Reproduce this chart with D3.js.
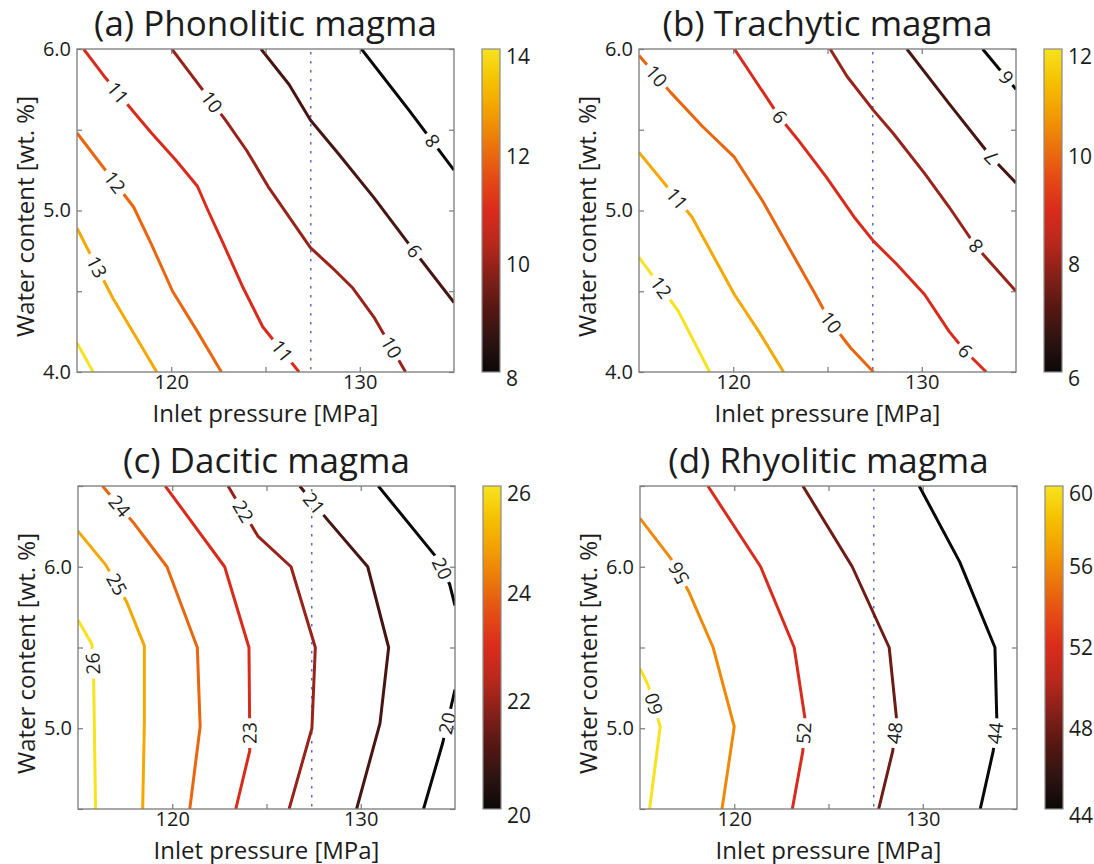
<!DOCTYPE html>
<html>
<head>
<meta charset="utf-8">
<script src="https://cdn.jsdelivr.net/npm/d3@7"></script>
<style>
  body { margin: 0; background: #fff; }
  text { font-family: "Open Sans", "Noto Sans", sans-serif; fill: #1c1c1c; }
</style>
</head>
<body>
<div id="chart"></div>
<script>
// ---- data ----
// every contour: level, points as [pressure MPa, water wt.%], label spots
const pressureDomain = [115, 135];
const pressureTicks = [120, 125, 130];
const pressureLabels = [120, 130];
const ventPressure = 127.4;   // dotted blue line

const titles = ["(a) Phonolitic magma", "(b) Trachytic magma", "(c) Dacitic magma", "(d) Rhyolitic magma"];

const waterDomainTop = [4.0, 6.0];
const waterTicksTop = [4.0, 4.5, 5.0, 5.5, 6.0];
const waterLabelsTop = [4.0, 5.0, 6.0];
const waterDomainBottom = [4.5, 6.5];
const waterTicksBottom = [4.5, 5.0, 5.5, 6.0, 6.5];
const waterLabelsBottom = [5.0, 6.0];

const cbarRangeA = [8, 14],  cbarTicksA = [8, 10, 12, 14];
const cbarRangeB = [6, 12],  cbarTicksB = [6, 8, 10, 12];
const cbarRangeC = [20, 26], cbarTicksC = [20, 22, 24, 26];
const cbarRangeD = [44, 60], cbarTicksD = [44, 48, 52, 56, 60];

const phonoliticLines = [
  {level: 14, points: [[115.0, 4.18], [115.86, 4.0]], labels: []},
  {level: 13, points: [[115.0, 4.89], [116.89, 4.46], [119.23, 4.0]], labels: [[116.05, 4.65]]},
  {level: 12, points: [[115.0, 5.48], [118.01, 5.02], [118.95, 4.79], [120.07, 4.5], [121.39, 4.25], [122.66, 4.0]], labels: [[116.95, 5.17]]},
  {level: 11, points: [[115.35, 6.0], [116.52, 5.82], [118.01, 5.61], [118.95, 5.48], [120.26, 5.31], [121.39, 5.15], [121.95, 5.0], [122.7, 4.81], [123.82, 4.52], [124.85, 4.28], [126.78, 4.0]], labels: [[117.18, 5.73], [125.88, 4.13]]},
  {level: 10, points: [[120.03, 6.0], [122.88, 5.56], [124.01, 5.37], [125.13, 5.15], [126.25, 4.96], [127.38, 4.77], [128.5, 4.65], [129.63, 4.52], [130.75, 4.34], [132.43, 4.0]], labels: [[121.9, 5.65], [131.5, 4.14]]},
  {level: 9, points: [[135.0, 4.43], [132.62, 4.79], [130.75, 5.08], [128.88, 5.35], [127.38, 5.56], [126.25, 5.78], [124.76, 6.0]], labels: [[132.9, 4.75]]},
  {level: 8, points: [[135.0, 5.25], [132.62, 5.62], [130.09, 6.0]], labels: [[133.84, 5.43]]}
];

const trachyticLines = [
  {level: 12, points: [[115.0, 4.71], [117.07, 4.38], [118.75, 4.0]], labels: [[115.9, 4.5]]},
  {level: 11, points: [[115.0, 5.36], [117.81, 4.96], [120.06, 4.48], [121.36, 4.25], [122.67, 4.0]], labels: [[116.88, 5.06]]},
  {level: 10, points: [[115.0, 5.96], [116.69, 5.73], [118.37, 5.52], [120.06, 5.33], [121.55, 5.06], [123.05, 4.75], [124.36, 4.48], [125.1, 4.32], [126.22, 4.15], [127.44, 4.0]], labels: [[115.9, 5.83], [125.1, 4.3]]},
  {level: 9, points: [[133.42, 4.0], [132.3, 4.13], [131.46, 4.25], [130.15, 4.48], [128.65, 4.67], [127.44, 4.81], [126.41, 4.96], [124.92, 5.21], [123.42, 5.44], [122.45, 5.58], [120.06, 6.0]], labels: [[122.45, 5.58], [132.3, 4.13]]},
  {level: 8, points: [[135.0, 4.5], [132.86, 4.78], [131.46, 5.02], [130.15, 5.23], [128.47, 5.48], [127.44, 5.62], [126.04, 5.83], [125.14, 6.0]], labels: [[132.86, 4.78]]},
  {level: 7, points: [[135.0, 5.17], [133.7, 5.33], [131.46, 5.66], [129.21, 6.0]], labels: [[133.7, 5.33]]},
  {level: 6, points: [[135.0, 5.75], [133.23, 6.0]], labels: [[134.36, 5.81]]}
];

const daciticLines = [
  {level: 26, points: [[115.93, 4.5], [115.83, 5.31], [115.74, 5.52], [115.0, 5.67]], labels: [[115.78, 5.4]]},
  {level: 25, points: [[115.0, 6.22], [116.48, 6.01], [117.59, 5.78], [118.52, 5.51], [118.52, 5.03], [118.43, 4.5]], labels: [[117.04, 5.89]]},
  {level: 24, points: [[116.3, 6.5], [117.96, 6.27], [119.72, 6.0], [121.33, 5.5], [121.48, 5.01], [120.93, 4.5]], labels: [[117.04, 6.36]]},
  {level: 23, points: [[123.37, 4.5], [124.11, 4.86], [124.1, 5.1], [124.07, 5.5], [122.78, 6.0], [119.63, 6.5]], labels: [[124.12, 4.97]]},
  {level: 22, points: [[122.96, 6.5], [124.54, 6.19], [126.3, 6.0], [127.59, 5.5], [127.41, 5.0], [126.2, 4.5]], labels: [[123.72, 6.34]]},
  {level: 21, points: [[126.76, 6.5], [128.24, 6.29], [130.37, 6.0], [131.48, 5.5], [131.02, 5.03], [129.78, 4.5]], labels: [[127.5, 6.39]]},
  {level: 20, points: [[130.93, 6.5], [134.07, 6.05], [134.72, 5.89], [135.0, 5.76]], labels: [[134.35, 5.99]]},
  {level: 20, points: [[133.33, 4.5], [134.35, 4.91], [135.0, 5.24]], labels: [[134.62, 5.03]]}
];

const rhyoliticLines = [
  {level: 60, points: [[115.51, 4.5], [116.07, 5.01], [115.42, 5.27], [115.0, 5.37]], labels: [[115.72, 5.15]]},
  {level: 56, points: [[119.35, 4.5], [120.0, 5.01], [118.88, 5.5], [117.57, 5.85], [116.64, 6.05], [115.0, 6.3]], labels: [[117.05, 5.96]]},
  {level: 52, points: [[123.08, 4.5], [123.64, 4.86], [123.74, 5.07], [123.18, 5.5], [121.4, 6.0], [118.6, 6.5]], labels: [[123.7, 4.97]]},
  {level: 48, points: [[127.66, 4.5], [128.41, 4.86], [128.6, 5.07], [128.22, 5.5], [126.26, 6.0], [123.64, 6.5]], labels: [[128.52, 4.97]]},
  {level: 44, points: [[133.05, 4.5], [133.74, 4.86], [133.93, 5.05], [133.83, 5.5], [131.96, 6.03], [129.81, 6.5]], labels: [[133.85, 4.97]]}
];

// ---- colormap (black -> red -> orange -> yellow) ----
const hotStops = ["#0a0808", "#2d1411", "#561712", "#86201a", "#b9281c", "#d92b1c", "#e54a15", "#eb740b", "#f29d02", "#f5c100", "#f6e31e"];
const hot = d3.scaleLinear()
  .domain(hotStops.map((c, i) => i / (hotStops.length - 1)))
  .range(hotStops)
  .interpolate(d3.interpolateRgb);

const W = 1094, H = 864;
const svg = d3.select("#chart").append("svg").attr("width", W).attr("height", H);

const plotW = 377, plotH = 323;
const frameColor = "#7a7a7a";

const panels = [
  {id: "a", title: titles[0], lines: phonoliticLines, left: 77, top: 49, yDomain: waterDomainTop, yTicks: waterTicksTop, yLabels: waterLabelsTop, cRange: cbarRangeA, cTicks: cbarTicksA},
  {id: "b", title: titles[1], lines: trachyticLines, left: 639, top: 49, yDomain: waterDomainTop, yTicks: waterTicksTop, yLabels: waterLabelsTop, cRange: cbarRangeB, cTicks: cbarTicksB},
  {id: "c", title: titles[2], lines: daciticLines, left: 78, top: 486, yDomain: waterDomainBottom, yTicks: waterTicksBottom, yLabels: waterLabelsBottom, cRange: cbarRangeC, cTicks: cbarTicksC},
  {id: "d", title: titles[3], lines: rhyoliticLines, left: 640, top: 486, yDomain: waterDomainBottom, yTicks: waterTicksBottom, yLabels: waterLabelsBottom, cRange: cbarRangeD, cTicks: cbarTicksD}
];

// nearest point on a pixel polyline, with the direction of that segment
function placeOnLine(px, p) {
  let best = null;
  for (let i = 0; i < px.length - 1; i++) {
    const a = px[i], b = px[i + 1];
    const dx = b[0] - a[0], dy = b[1] - a[1];
    const len2 = dx * dx + dy * dy;
    let t = ((p[0] - a[0]) * dx + (p[1] - a[1]) * dy) / len2;
    t = Math.max(0, Math.min(1, t));
    const qx = a[0] + t * dx, qy = a[1] + t * dy;
    const d = (qx - p[0]) ** 2 + (qy - p[1]) ** 2;
    if (!best || d < best.d) best = {d: d, x: qx, y: qy, angle: Math.atan2(dy, dx) * 180 / Math.PI};
  }
  return best;
}

function drawPanel(p) {
  const g = svg.append("g").attr("class", "panel-" + p.id);
  const x = d3.scaleLinear().domain(pressureDomain).range([p.left, p.left + plotW]);
  const y = d3.scaleLinear().domain(p.yDomain).range([p.top + plotH, p.top]);
  const color = v => hot((v - p.cRange[0]) / (p.cRange[1] - p.cRange[0]));

  svg.append("clipPath").attr("id", "clip-" + p.id)
    .append("rect").attr("x", p.left).attr("y", p.top).attr("width", plotW).attr("height", plotH);

  const plot = g.append("g").attr("clip-path", "url(#clip-" + p.id + ")");

  // dotted vertical line
  plot.append("line")
    .attr("x1", x(ventPressure)).attr("x2", x(ventPressure))
    .attr("y1", p.top + 3).attr("y2", p.top + plotH)
    .attr("stroke", "#3a4fd6").attr("stroke-width", 1.5)
    .attr("stroke-dasharray", "2.5,6.5").attr("opacity", 0.85);

  // contour lines
  const line = d3.line().x(d => x(d[0])).y(d => y(d[1]));
  plot.selectAll("path.contour")
    .data(p.lines)
    .join("path")
    .attr("class", "contour")
    .attr("d", d => line(d.points))
    .attr("fill", "none")
    .attr("stroke", d => color(d.level))
    .attr("stroke-width", 3)
    .attr("stroke-linejoin", "round")
    .attr("stroke-linecap", "butt");

  // inline labels
  p.lines.forEach(c => {
    const px = c.points.map(d => [x(d[0]), y(d[1])]);
    c.labels.forEach(lp => {
      const pos = placeOnLine(px, [x(lp[0]), y(lp[1])]);
      const lg = plot.append("g")
        .attr("transform", "translate(" + pos.x + "," + pos.y + ") rotate(" + pos.angle + ")");
      const bg = lg.append("rect").attr("fill", "#fff");
      const t = lg.append("text")
        .attr("text-anchor", "middle")
        .attr("dy", "0.36em")
        .attr("font-size", 19)
        .text(c.level);
      const tw = t.node().getComputedTextLength();
      bg.attr("x", -tw / 2 - 4).attr("y", -5).attr("width", tw + 8).attr("height", 10);
    });
  });

  // frame
  g.append("rect")
    .attr("x", p.left).attr("y", p.top).attr("width", plotW).attr("height", plotH)
    .attr("fill", "none").attr("stroke", frameColor).attr("stroke-width", 1.3);

  // axes (ticks inward on all four sides)
  const fmtX = d => pressureLabels.includes(d) ? d : "";
  const fmtY = d => p.yLabels.includes(d) ? d3.format(".1f")(d) : "";
  const axes = [
    g.append("g").attr("transform", "translate(0," + (p.top + plotH) + ")")
      .call(d3.axisBottom(x).tickValues(pressureTicks).tickSize(-5).tickPadding(3).tickFormat(fmtX)),
    g.append("g").attr("transform", "translate(0," + p.top + ")")
      .call(d3.axisTop(x).tickValues(pressureTicks).tickSize(-5).tickFormat("")),
    g.append("g").attr("transform", "translate(" + p.left + ",0)")
      .call(d3.axisLeft(y).tickValues(p.yTicks).tickSize(-5).tickPadding(6).tickFormat(fmtY)),
    g.append("g").attr("transform", "translate(" + (p.left + plotW) + ",0)")
      .call(d3.axisRight(y).tickValues(p.yTicks).tickSize(-5).tickFormat(""))
  ];
  axes.forEach(a => {
    a.select(".domain").remove();
    a.selectAll(".tick line").attr("stroke", frameColor).attr("stroke-width", 1.2);
    a.attr("font-family", null).attr("font-size", null);
    a.selectAll(".tick text").attr("font-size", 20).attr("fill", "#1c1c1c");
  });

  // title + axis titles
  g.append("text")
    .attr("x", p.left + plotW / 2).attr("y", p.top - 13)
    .attr("text-anchor", "middle").attr("font-size", 35)
    .text(p.title);
  g.append("text")
    .attr("x", p.left + plotW / 2).attr("y", p.top + plotH + 49.5)
    .attr("text-anchor", "middle").attr("font-size", 24)
    .text("Inlet pressure [MPa]");
  g.append("text")
    .attr("transform", "translate(" + (p.left - 43) + "," + (p.top + plotH / 2 + 6) + ") rotate(-90)")
    .attr("text-anchor", "middle").attr("font-size", 24)
    .text("Water content [wt. %]");

  // colorbar
  const cbX = p.left + 405, cbW = 18;
  const cy = d3.scaleLinear().domain(p.cRange).range([p.top + plotH, p.top]);
  const grad = svg.append("defs").append("linearGradient")
    .attr("id", "grad-" + p.id).attr("x1", 0).attr("y1", 1).attr("x2", 0).attr("y2", 0);
  grad.selectAll("stop").data(d3.range(0, 1.0001, 0.05)).join("stop")
    .attr("offset", d => d).attr("stop-color", d => hot(d));
  g.append("rect")
    .attr("x", cbX).attr("y", p.top).attr("width", cbW).attr("height", plotH)
    .attr("fill", "url(#grad-" + p.id + ")")
    .attr("stroke", "#8a8a8a").attr("stroke-width", 1.2);
  g.selectAll("text.cb").data(p.cTicks).join("text")
    .attr("class", "cb")
    .attr("x", cbX + cbW + 6)
    .attr("y", d => cy(d) + (d === p.cRange[1] ? 7 : d === p.cRange[0] ? 6 : 0))
    .attr("dy", "0.36em")
    .attr("font-size", 21)
    .text(d => d);
}

panels.forEach(drawPanel);
</script>
</body>
</html>
